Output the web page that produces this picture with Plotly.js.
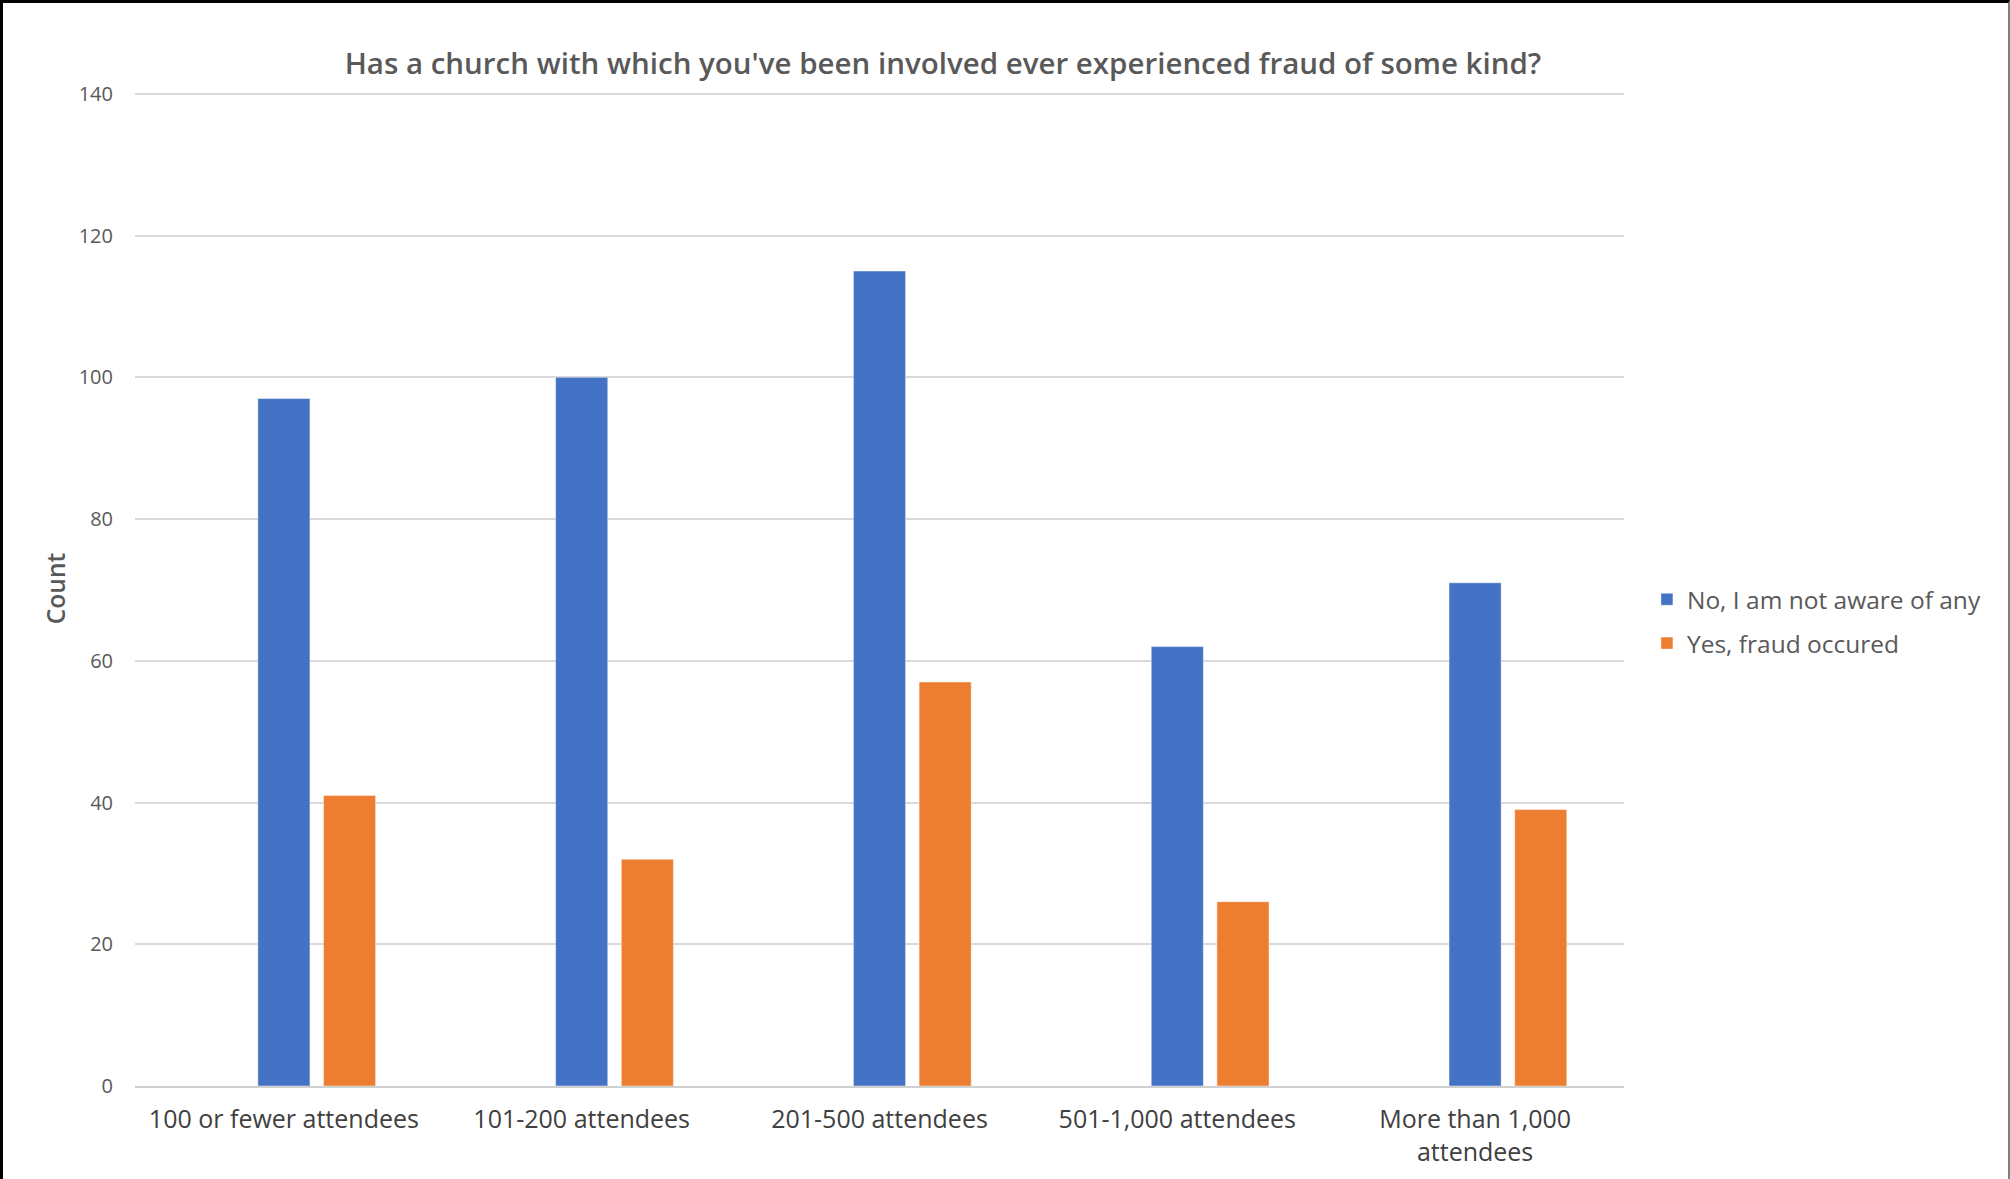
<!DOCTYPE html>
<html>
<head>
<meta charset="utf-8">
<script src="https://cdn.plot.ly/plotly-3.0.1.min.js"></script>
<style>
  html, body { margin: 0; padding: 0; background: #fff; }
  #frame { position: absolute; left: 0; top: 0; width: 2010px; height: 1179px; box-sizing: border-box;
           border-top: 3px solid #000; border-left: 3px solid #000; border-right: 2px solid #7f7f7f; }
  #chart { width: 2005px; height: 1176px; }
</style>
</head>
<body>
<div id="frame"><div id="chart"></div></div>
<script>
const categories = ["100 or fewer attendees", "101-200 attendees", "201-500 attendees", "501-1,000 attendees", "More than 1,000<br>attendees"];
const seriesNames = ["No, I am not aware of any", "Yes, fraud occured"];
const noValues = [97, 100, 115, 62, 71];
const yesValues = [41, 32, 57, 26, 39];
const yTicks = [0, 20, 40, 60, 80, 100, 120, 140];

const BAR_W = 0.175;
const traces = [
  { type: 'bar', name: seriesNames[0], x: categories, y: noValues,
    marker: { color: '#4472C4', line: { color: 'rgba(255,255,255,0.45)', width: 1 } },
    width: BAR_W, offset: -BAR_W / 2, legendgroup: 'a', hoverinfo: 'y' },
  { type: 'bar', name: seriesNames[1], x: categories, y: yesValues,
    marker: { color: '#ED7D31', line: { color: 'rgba(255,255,255,0.45)', width: 1 } },
    width: BAR_W, offset: -BAR_W / 2 + 0.2205, legendgroup: 'b', hoverinfo: 'y' }
];

const layout = {
  width: 2005, height: 1176,
  margin: { l: 132, r: 384, t: 88, b: 93 },
  paper_bgcolor: '#ffffff', plot_bgcolor: '#ffffff',
  font: { family: 'Open Sans, sans-serif', color: '#595959' },
  title: { text: "Has a church with which you've been involved ever experienced fraud of some kind?",
           font: { size: 29.5, color: '#595959', weight: 600 },
           xref: 'container', x: 0.4688, xanchor: 'center', yref: 'container', y: 0.948, yanchor: 'middle' },
  barmode: 'overlay',
  xaxis: { type: 'category', tickfont: { size: 25, color: '#404040', weight: 500 },
           showgrid: false, showline: true, linecolor: '#d0d0d0', linewidth: 2,
           ticks: 'outside', ticklen: 10, tickcolor: 'rgba(0,0,0,0)', zeroline: false },
  yaxis: { range: [0, 140.4], tickvals: yTicks, ticktext: yTicks.map(String),
           tickfont: { size: 20, color: '#595959' },
           showgrid: true, gridcolor: '#d9d9d9', gridwidth: 1.5, zeroline: false, showline: false,
           ticks: 'outside', ticklen: 17, tickcolor: 'rgba(0,0,0,0)',
           title: { text: 'Count', font: { size: 24.5, color: '#595959', weight: 600 }, standoff: 6 } },
  showlegend: true,
  legend: { x: 1.0154, xanchor: 'left', y: 0.467, yanchor: 'middle', font: { size: 24.5, color: '#595959' },
            tracegroupgap: 9, itemwidth: 30, bgcolor: 'rgba(0,0,0,0)' }
};

Plotly.newPlot('chart', traces, layout, { displayModeBar: false, responsive: false });
</script>
</body>
</html>
